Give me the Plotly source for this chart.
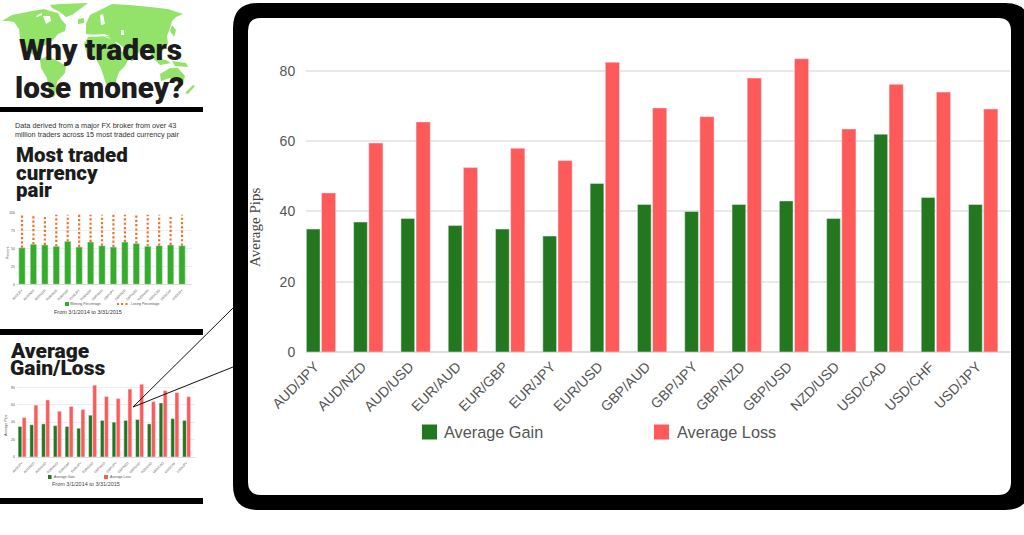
import plotly.graph_objects as go

W, H = 1024, 535

# ---------- data ----------
pairs = ["AUD/JPY", "AUD/NZD", "AUD/USD", "EUR/AUD", "EUR/GBP", "EUR/JPY", "EUR/USD", "GBP/AUD",
         "GBP/JPY", "GBP/NZD", "GBP/USD", "NZD/USD", "USD/CAD", "USD/CHF", "USD/JPY"]
average_gain = [35, 37, 38, 36, 35, 33, 48, 42, 40, 42, 43, 38, 62, 44, 42]
average_loss = [45.3, 59.5, 65.5, 52.5, 58, 54.5, 82.5, 69.5, 67, 78, 83.5, 63.5, 76.2, 74, 69.2]
winning_pct = [51, 56, 55, 53, 60, 52, 59, 54, 52, 59, 57, 53, 54, 55, 54]
losing_pct = [49, 44, 45, 47, 40, 48, 41, 46, 48, 41, 43, 47, 46, 45, 46]
main_ticks = [0, 20, 40, 60, 80]
pct_ticks = [0, 25, 50, 75, 100]

GREEN = "#23781f"
RED = "#ff5a5a"
MINI_GREEN = "#35ad2b"
ORANGE = "#f4702a"
MAP = "#93e26a"
INK = "#1c1c1c"
GREY = "#555555"
SANS = "Liberation Sans"
HEAD = "Roboto"


def px(x):
    return x / W


def py(y):
    return 1 - y / H


def pt(x, y):
    return f"{px(x):.5f},{py(y):.5f}"


def poly(points):
    return "M" + " L".join(pt(x, y) for x, y in points) + " Z"


def rrect(x0, y0, x1, y1, r):
    return (f"M{pt(x0 + r, y0)} L{pt(x1 - r, y0)} Q{pt(x1, y0)} {pt(x1, y0 + r)} "
            f"L{pt(x1, y1 - r)} Q{pt(x1, y1)} {pt(x1 - r, y1)} L{pt(x0 + r, y1)} "
            f"Q{pt(x0, y1)} {pt(x0, y1 - r)} L{pt(x0, y0 + r)} Q{pt(x0, y0)} {pt(x0 + r, y0)} Z")


shapes, annotations = [], []


def fill(path, color, layer="below"):
    shapes.append(dict(type="path", xref="paper", yref="paper", path=path, fillcolor=color,
                       line=dict(width=0), layer=layer))


def rect(x0, y0, x1, y1, color, layer="below"):
    shapes.append(dict(type="rect", xref="paper", yref="paper", x0=px(x0), x1=px(x1), y0=py(y1), y1=py(y0),
                       fillcolor=color, line=dict(width=0), layer=layer))


def text(s, x, y, size, color=INK, family=SANS, anchor="left", weight="normal", angle=0):
    annotations.append(dict(text=s, x=px(x), y=py(y), xref="paper", yref="paper", textangle=angle,
                            xanchor=anchor, yanchor="middle", showarrow=False, borderpad=0, borderwidth=0,
                            font=dict(size=size, color=color, family=family, weight=weight)))


# ---------- world map (decorative) ----------
land = [
    [(2, 21), (12, 15), (22, 13), (32, 11), (44, 9), (50, 11), (58, 13), (61, 19), (66, 25), (65, 31), (58, 34),
     (53, 40), (48, 44), (41, 47), (39, 55), (43, 60), (39, 60), (32, 54), (25, 48), (20, 38), (19, 29), (14, 22), (8, 21)],
    [(50, 5), (60, 4), (88, 3), (80, 9), (72, 15), (66, 17), (60, 12), (52, 8)],
    [(40, 60), (47, 56), (56, 60), (66, 66), (65, 73), (57, 82), (55, 95), (53, 98), (49, 92), (47, 78), (41, 68)],
    [(86, 24), (90, 15), (100, 10), (112, 4), (130, 5), (150, 7), (168, 9), (183, 14), (176, 17), (172, 21), (170, 28),
     (167, 36), (168, 44), (162, 52), (156, 60), (149, 52), (145, 45), (139, 52), (132, 62), (126, 50), (119, 44),
     (108, 37), (96, 35), (86, 34)],
    [(84, 44), (88, 37), (102, 36), (114, 40), (122, 52), (131, 54), (125, 66), (119, 72), (115, 84), (106, 84),
     (101, 68), (96, 59), (88, 58)],
    [(160, 74), (170, 68), (178, 68), (185, 76), (183, 83), (175, 82), (170, 78), (161, 81)],
    [(153, 58), (166, 60), (171, 63), (160, 65)],
    [(172, 61), (186, 63), (188, 67), (175, 66)],
    [(172, 25), (176, 30), (174, 37), (170, 31)],
    [(185, 93), (193, 85), (195, 86), (188, 94)],
    [(78, 19), (84, 18), (84, 23), (78, 24)],
]
for p in land:
    fill(poly(p), MAP)
seas = [
    [(43, 16), (50, 16), (51, 21), (46, 24)],
    [(90, 35), (104, 34), (110, 36), (96, 36.5)],
    [(100, 15), (103, 14), (105, 24), (101, 25)],
    [(121, 30), (124, 30), (124, 35), (121, 35)],
    [(120, 46), (122, 46), (127, 54), (125, 54)],
    [(36, 16), (42, 13), (42, 15), (37, 17)],
]
for p in seas:
    fill(poly(p), "#ffffff")

# ---------- page furniture ----------
rect(0, 107, 203, 112, "#000000")
rect(0, 329, 203, 335, "#000000")
rect(0, 498, 203, 504, "#000000")
fill(rrect(233, 3, 1030, 510, 25), "#000000")
fill(rrect(248, 18, 1011, 495, 13), "#ffffff")

text("Why traders", 100, 49.5, 30, family=HEAD, anchor="center", weight=900)
text("lose money?", 99.5, 87.5, 29.7, family=HEAD, anchor="center", weight=900)
text("Data derived from a major FX broker from over 43", 15, 125, 7.3, color="#333333")
text("million traders across 15 most traded currency pair", 15, 134.5, 7.3, color="#333333")
text("Most traded", 16, 155, 20.5, family=HEAD, weight=900)
text("currency", 16, 173, 20.5, family=HEAD, weight=900)
text("pair", 16, 190, 20.5, family=HEAD, weight=900)
text("Average", 10, 351, 21, family=HEAD, weight=900)
text("Gain/Loss", 10, 368, 21, family=HEAD, weight=900)
text("From 3/1/2014 to 3/31/2015", 87.5, 312, 5.5, color="#333333", anchor="center")
text("From 3/1/2014 to 3/31/2015", 85.5, 484, 5.5, color="#444444", anchor="center")

# main legend
rect(422, 424.5, 437, 439.5, GREEN)
text("Average Gain", 444, 432, 16.3, color=GREY)
rect(654, 424.5, 669, 439.5, RED)
text("Average Loss", 677, 432, 16.3, color=GREY)
text("Average Pips", 255, 228, 15, color="#444444", family="Liberation Serif", anchor="center", angle=-90)

# mini chart legends and axis titles
rect(65, 302, 69, 306, MINI_GREEN)
text("Winning Percentage", 70, 304, 3.4, color=GREY)
for x in (118, 122, 126.5):
    rect(x - 1, 303, x + 1, 305, ORANGE)
text("Losing Percentage", 131, 304, 3.4, color=GREY)
rect(48, 475, 51.5, 479, GREEN)
text("Average Gain", 54, 477, 3.4, color=GREY)
rect(104, 475, 108, 479, RED)
text("Average Loss", 110, 477, 3.4, color=GREY)
text("Percent", 8, 253, 3.6, color=GREY, anchor="center", angle=-90)
text("Average Pips", 6, 425, 3.6, color=GREY, anchor="center", angle=-90)

# callout lines
for x0, y0 in ((233, 308), (233, 367)):
    shapes.append(dict(type="line", xref="paper", yref="paper", x0=px(x0), y0=py(y0), x1=px(133), y1=py(407),
                       line=dict(color="#111111", width=1), layer="above"))

# ---------- traces ----------
fig = go.Figure()
fig.add_bar(x=pairs, y=average_gain, name="Average Gain", marker_color=GREEN, width=0.29, offset=-0.31,
            xaxis="x", yaxis="y")
fig.add_bar(x=pairs, y=average_loss, name="Average Loss", marker_color=RED, width=0.3, offset=0.01,
            xaxis="x", yaxis="y")

fig.add_bar(x=pairs, y=winning_pct, name="Winning Percentage", marker_color=MINI_GREEN, width=0.56,
            offset=-0.28, xaxis="x2", yaxis="y2")
dot_x, dot_y = [], []
for c, w, l in zip(pairs, winning_pct, losing_pct):
    dot_x += [c, c, None]
    dot_y += [w, w + l - 3, None]
fig.add_scatter(x=dot_x, y=dot_y, mode="lines", name="Losing Percentage",
                line=dict(color=ORANGE, width=2.2, dash="2.2px,2.1px"), xaxis="x2", yaxis="y2")

fig.add_bar(x=pairs, y=average_gain, name="Average Gain", marker_color=GREEN, width=0.32, offset=-0.33,
            xaxis="x3", yaxis="y3")
fig.add_bar(x=pairs, y=average_loss, name="Average Loss", marker_color=RED, width=0.33, offset=0.02,
            xaxis="x3", yaxis="y3")


def cat_axis(x0, x1, first, step, y_anchor, size, standoff, shift):
    return dict(domain=[px(x0), px(x1)], anchor=y_anchor, type="category", categoryorder="array", categoryarray=pairs,
                range=[(x0 - first) / step, (x1 - first) / step], tickangle=-45, showgrid=False,
                tickfont=dict(size=size, color=GREY, family=SANS), ticks="outside", ticklen=standoff,
                tickcolor="rgba(0,0,0,0)", tickwidth=1, showline=False, zeroline=False, fixedrange=True,
                ticklabelshift=shift, automargin=False)


def val_axis(y_zero, per_unit, top, x_anchor, ticks, size, standoff, grid_w, grid_c):
    return dict(domain=[py(y_zero), py(y_zero - per_unit * top)], anchor=x_anchor, range=[0, top], tickvals=ticks,
                tickfont=dict(size=size, color=GREY, family=SANS), gridcolor=grid_c, gridwidth=grid_w,
                zeroline=True, zerolinecolor="#dddddd", zerolinewidth=grid_w, showline=False, ticks="outside",
                ticklen=standoff, tickcolor="rgba(0,0,0,0)", fixedrange=True, automargin=False)


fig.update_layout(
    width=W, height=H, margin=dict(l=0, r=0, t=0, b=0), autosize=False,
    paper_bgcolor="#ffffff", plot_bgcolor="rgba(0,0,0,0)", barmode="overlay",
    showlegend=False,
    xaxis=cat_axis(306, 1010, 321, 47.3, "y", 14, 0, -6),
    yaxis=val_axis(352, 3.5125, 85, "x", main_ticks, 14, 7, 1.5, "#e8e8e8"),
    xaxis2=cat_axis(17, 192, 22, 11.43, "y2", 3.2, 2, 0),
    yaxis2=val_axis(284.3, 0.716, 100, "x2", pct_ticks, 3.4, 0.5, 0.5, "#eeeeee"),
    xaxis3=cat_axis(17, 195, 22, 11.75, "y3", 3.2, 2, 0),
    yaxis3=val_axis(457, 0.871, 85, "x3", main_ticks, 3.4, 0.5, 0.5, "#eeeeee"),
    shapes=shapes, annotations=annotations,
)

fig.write_html("out.html", config=dict(displayModeBar=False),
               post_script="document.body.style.margin='0';")
